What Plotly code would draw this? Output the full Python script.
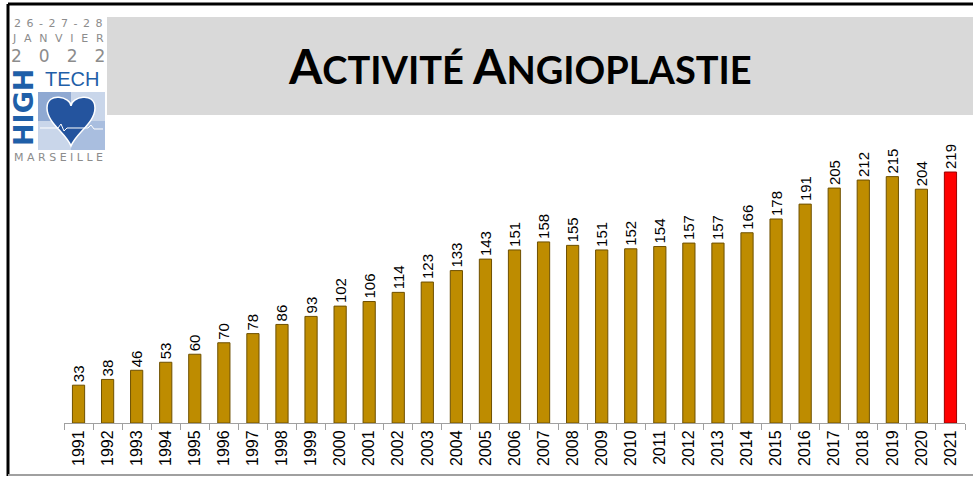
import plotly.graph_objects as go

years = [str(y) for y in range(1991, 2022)]
values = [33, 38, 46, 53, 60, 70, 78, 86, 93, 102, 106, 114, 123, 133, 143, 151,
          158, 155, 151, 152, 154, 157, 157, 166, 178, 191, 205, 212, 215, 204, 219]
title_big = ["A", "A"]
title_small = ["CTIVITÉ ", "NGIOPLASTIE"]

W, H = 973, 478
gold, gold_edge = "#BE8C00", "#6E5000"
red, red_edge = "#FF0000", "#9A0000"
colors = [gold] * (len(years) - 1) + [red]
edges = [gold_edge] * (len(years) - 1) + [red_edge]


def px(x):
    return x / W


def py(y):
    return 1 - y / H


def path(cmds):
    # cmds: list of (letter, [(x, y), ...]) in pixel coords -> svg path in paper coords
    out = []
    for c, pts in cmds:
        out.append(c + " ".join(f"{px(x):.5f},{py(y):.5f}" for x, y in pts))
    return " ".join(out) + " Z"


fig = go.Figure()
fig.add_bar(
    x=years,
    y=values,
    marker=dict(color=colors, line=dict(color=edges, width=1)),
    text=[str(v) for v in values],
    textposition="outside",
    textangle=-90,
    constraintext="none",
    textfont=dict(family="Liberation Sans", size=15, color="black"),
    cliponaxis=False,
    hoverinfo="skip",
)

cx = 71
heart = path([
    ("M", [(cx, 106)]),
    ("C", [(cx, 97), (cx - 24, 91), (cx - 24, 108)]),
    ("C", [(cx - 24, 123), (cx - 5, 133), (cx, 146)]),
    ("C", [(cx + 5, 133), (cx + 24, 123), (cx + 24, 108)]),
    ("C", [(cx + 24, 91), (cx, 97), (cx, 106)]),
])
ecg = "M" + " L".join(f"{px(x):.5f},{py(y):.5f}" for x, y in
                      [(40, 128), (58, 128), (61, 124), (64, 131), (67, 128), (88, 128), (91, 125), (94, 129), (103, 129)])

shapes = [
    # frame
    dict(type="line", x0=px(8), x1=1, y0=py(4), y1=py(4), line=dict(color="black", width=3)),
    dict(type="line", x0=px(8), x1=px(8), y0=py(4), y1=py(476), line=dict(color="black", width=3)),
    dict(type="line", x0=px(8), x1=1, y0=py(475), y1=py(475), line=dict(color="#A0A0A0", width=2)),
    # title band
    dict(type="rect", x0=px(107), x1=1, y0=py(17), y1=py(115), fillcolor="#D9D9D9", line_width=0, layer="below"),
    # logo blocks
    dict(type="rect", x0=px(38), x1=px(105), y0=py(92), y1=py(150), fillcolor="#C9D6EA", line_width=0),
    dict(type="rect", x0=px(38), x1=px(71), y0=py(92), y1=py(121), fillcolor="#8FA9D2", line_width=0),
    dict(type="rect", x0=px(71), x1=px(105), y0=py(121), y1=py(150), fillcolor="#A9BEDF", line_width=0),
    dict(type="path", path=heart, fillcolor="#24549E", line=dict(color="white", width=1.5)),
    dict(type="path", path=ecg, line=dict(color="white", width=1)),
]

ann = []
title_html = "".join(
    f"{b}<span style='font-size:38px'>{s}</span>" for b, s in zip(title_big, title_small)
)
ann.append(dict(x=px(520), y=py(66), text="<b>" + title_html + "</b>", showarrow=False,
                font=dict(family="Lato", size=48, color="black"), xanchor="center", yanchor="middle"))
gray = "#8C8C8C"
blue = "#1F5FA8"
ann += [
    dict(x=px(58), y=py(23), text="\u2002".join("26-27-28"), font=dict(family="DejaVu Sans", size=11, color=gray)),
    dict(x=px(58), y=py(38.5), text="\u2002\u2009".join("JANVIER"), font=dict(family="DejaVu Sans", size=11, color=gray)),
    dict(x=px(58), y=py(56), text="\u2003".join("2022"), font=dict(family="DejaVu Sans", size=17, color=gray)),
    dict(x=px(72), y=py(79), text="TECH", font=dict(family="Liberation Sans", size=20, color=blue)),
    dict(x=px(23), y=py(108), text="<b>HIGH</b>", textangle=-90,
         font=dict(family="DejaVu Sans", size=27, color=blue)),
    dict(x=px(58), y=py(157), text=" ".join("MARSEILLE"), font=dict(family="DejaVu Sans", size=11, color=gray)),
]
for a in ann[1:]:
    a.update(showarrow=False, xanchor="center", yanchor="middle")

fig.update_layout(
    width=W,
    height=H,
    margin=dict(l=0, r=0, t=0, b=0),
    paper_bgcolor="white",
    plot_bgcolor="white",
    showlegend=False,
    bargap=0.58,
    shapes=[dict(s, xref="paper", yref="paper") for s in shapes],
    annotations=[dict(a, xref="paper", yref="paper") for a in ann],
    xaxis=dict(
        domain=[px(64), px(965)],
        type="category",
        tickson="boundaries",
        ticks="outside",
        ticklen=6,
        tickcolor="#A0A0A0",
        showline=True,
        linecolor="#A0A0A0",
        linewidth=1,
        tickangle=-90,
        tickfont=dict(family="Liberation Sans", size=16, color="black"),
        showgrid=False,
    ),
    yaxis=dict(
        domain=[py(423), py(136.5)],
        range=[0, 250],
        visible=False,
        showgrid=False,
    ),
)

# the page body has a default 8px margin; drop it so the figure sits at (0, 0)
fig.write_html("out.html", config={"displayModeBar": False},
               post_script="document.body.style.margin='0';")
